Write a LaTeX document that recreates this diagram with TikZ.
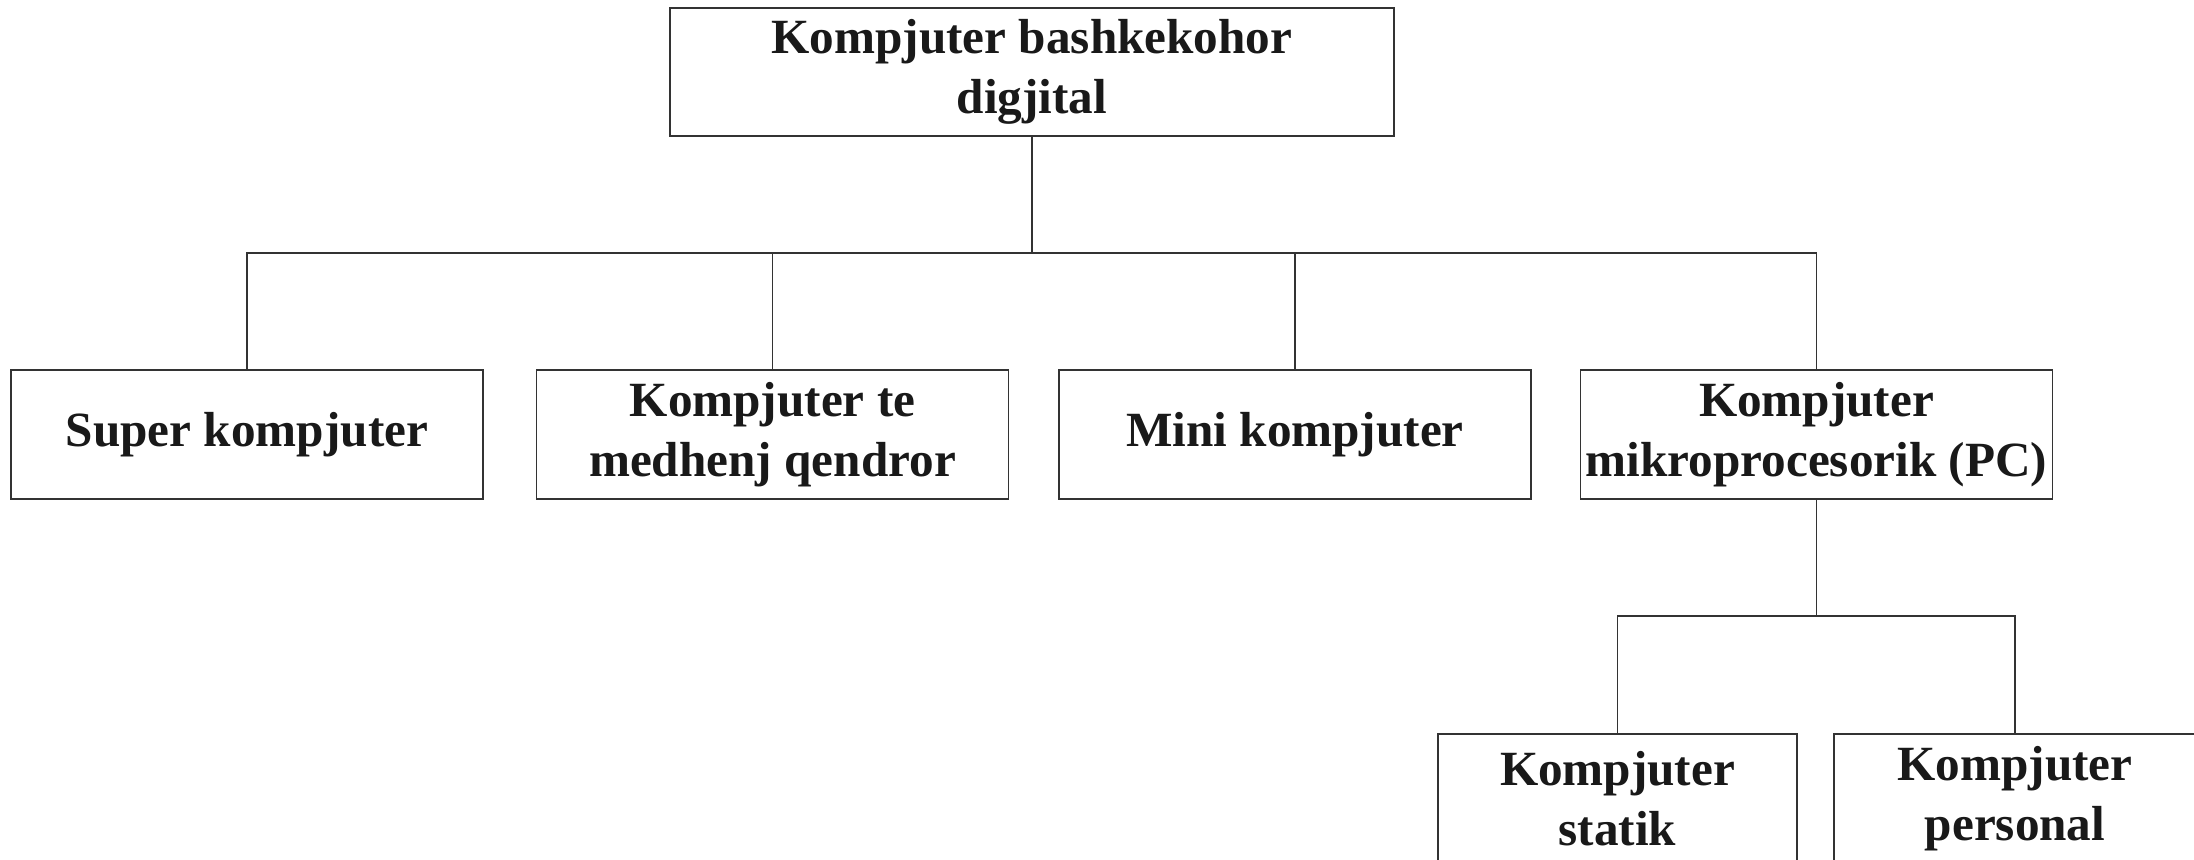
\documentclass[tikz,border=0pt]{standalone}
\usepackage{fontspec}
\setmainfont{Liberation Serif}

\begin{document}
\begin{tikzpicture}
\tikzset{ caixa/.style={draw=black!80, line width=0.45pt, fill=white, align=center,
                        inner sep=0pt, text=black!90,
                        font=\bfseries\fontsize{14}{17}\selectfont},
          linha/.style={draw=black!80, line width=0.45pt} }

\useasboundingbox (0,0) rectangle (21.94,8.59);
\clip (0,0) rectangle (21.94,8.59);

%\draw [lightgray, dashed](0,0) grid (22,9);

% topo
\node [caixa, minimum width=7.24cm, minimum height=1.28cm] (K) at (10.32,7.87) {Kompjuter bashkekohor\\digjital};

% segundo nivel
\node [caixa, minimum width=4.72cm, minimum height=1.29cm] (S) at (2.47,4.245)  {Super kompjuter};
\node [caixa, minimum width=4.72cm, minimum height=1.29cm] (Q) at (7.725,4.245) {Kompjuter te\\medhenj qendror};
\node [caixa, minimum width=4.72cm, minimum height=1.29cm] (M) at (12.95,4.245) {Mini kompjuter};
\node [caixa, minimum width=4.72cm, minimum height=1.29cm] (P) at (18.165,4.245) {Kompjuter\\mikroprocesorik (PC)};

% terceiro nivel
\node [caixa, anchor=north, minimum width=3.59cm, minimum height=1.29cm] (T) at (16.175,1.26) {Kompjuter\\statik};
\node [caixa, anchor=north, minimum width=3.62cm, minimum height=1.29cm] (R) at (20.15,1.26)  {Kompjuter\\personal};

% ligacoes
\coordinate (B1) at (10.32,6.06);
\coordinate (B2) at (18.165,2.43);

\draw [linha] (K.south) -- (B1);
\draw [linha] (S.north) |- (B1) -| (P.north);
\draw [linha] (Q.north) -- (Q.north |- B1);
\draw [linha] (M.north) -- (M.north |- B1);

\draw [linha] (P.south) -- (B2);
\draw [linha] (T.north) |- (B2) -| (R.north);

\end{tikzpicture}
\end{document}
